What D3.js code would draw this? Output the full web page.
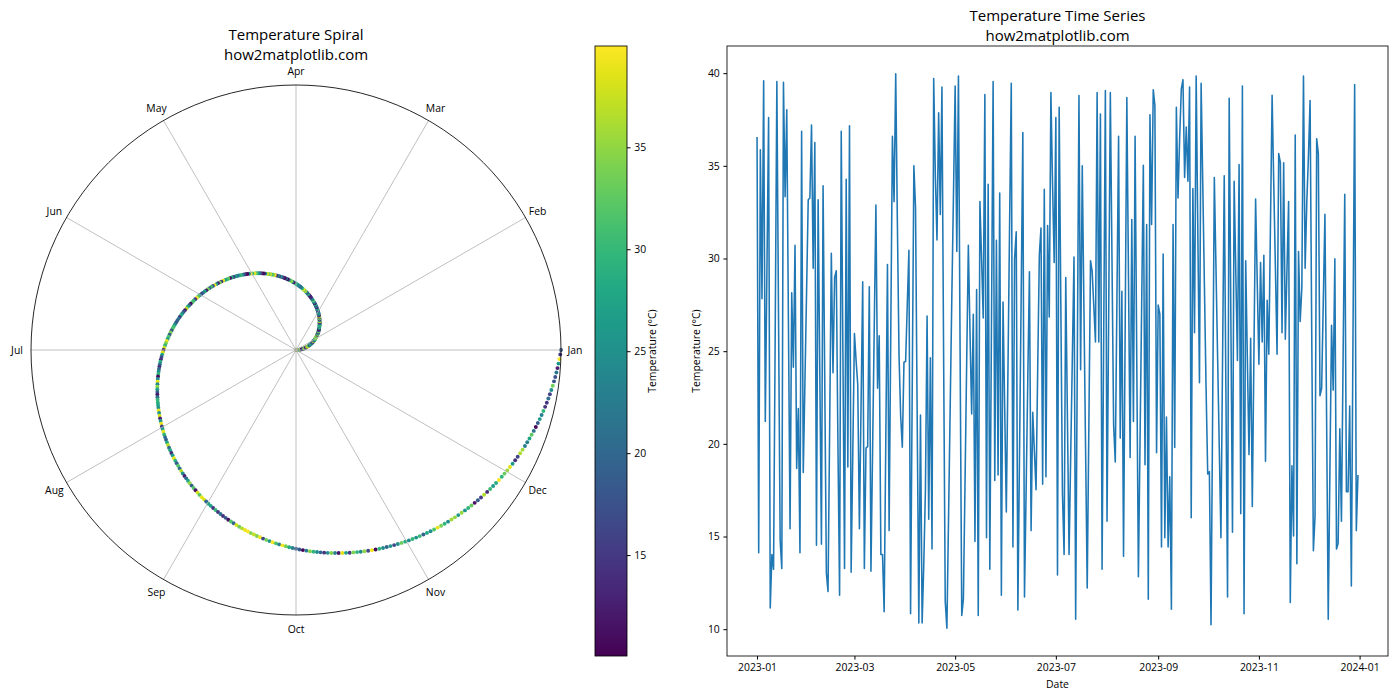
<!DOCTYPE html>
<html><head><meta charset="utf-8">
<script src="https://cdn.jsdelivr.net/npm/d3@7"></script>
<style>body{margin:0;background:#fff} svg text{font-family:"Open Sans",sans-serif;fill:#000}</style>
</head><body><svg id="c" width="1400" height="700"></svg>
<script>
const temperatures = [
36.56,14.13,35.86,27.83,39.59,21.21,29.5,37.60,11.14,14.03,
13.23,26.0,39.55,27.0,14.8,13.27,39.51,33.33,38.02,26.7,
15.42,28.15,24.14,30.72,18.67,21.90,14.13,36.86,18.45,23.3,
28.2,33.17,33.27,37.20,29.48,36.26,14.53,33.17,24.0,14.59,
33.93,23.5,13.03,12.03,21.0,30.28,23.84,28.98,29.34,20.0,
11.83,36.86,25.0,13.27,34.27,18.75,37.16,13.07,19.5,25.95,
24.5,23.2,15.42,22.0,28.74,13.27,19.77,19.85,28.48,13.13,
19.7,26.3,32.88,23.0,25.83,14.03,14.03,10.94,20.3,29.68,
15.32,26.0,36.60,33.07,39.97,32.0,24.8,21.5,19.82,24.4,
24.44,27.5,30.44,10.84,23.0,35.0,32.77,21.5,10.34,21.55,
10.34,13.5,17.5,26.9,15.93,24.64,14.33,39.71,34.53,31.0,
37.86,32.37,39.25,25.0,11.5,10.05,16.0,22.0,28.0,33.5,
39.31,30.38,39.85,25.0,10.74,11.64,18.0,24.5,30.72,26.0,
21.61,26.99,14.73,28.32,10.74,33.07,30.0,26.79,38.85,14.93,
34.0,13.23,26.4,39.55,18.02,30.98,18.32,33.53,11.83,27.65,
22.0,16.33,24.0,32.0,39.45,14.43,29.98,31.44,11.04,19.5,
28.0,36.8,11.74,17.5,23.5,29.28,15.32,21.7,19.6,17.52,
24.0,30.2,31.64,17.82,33.73,18.22,31.78,26.85,38.95,34.0,
29.79,37.6,12.93,38.16,27.7,17.32,14.03,28.98,21.5,14.03,
19.4,24.7,30.08,10.54,24.6,38.79,24.0,35.0,27.4,19.8,
12.23,21.0,29.88,29.3,27.4,25.5,38.95,25.5,37.8,13.23,
26.0,39.06,15.82,27.0,38.95,30.0,21.0,19.02,27.8,36.6,
20.31,28.23,13.93,26.3,38.69,29.0,19.26,32.11,21.21,36.6,
24.7,12.83,20.2,27.6,35.03,18.87,31.84,11.62,37.76,31.84,
39.11,38.25,19.52,27.49,27.0,14.43,30.24,14.93,21.45,14.43,
18.22,11.08,31.84,19.81,38.16,33.27,36.5,39.15,39.65,34.37,
37.1,34.17,39.25,16.02,33.77,26.0,39.85,31.5,23.3,39.45,
34.0,28.5,23.0,18.37,18.5,10.24,22.0,34.37,29.5,24.6,
19.8,14.93,24.7,34.47,23.0,11.74,38.65,27.0,15.23,34.17,
29.3,24.5,35.07,16.23,39.31,10.84,29.88,24.6,19.42,25.7,
16.62,25.0,33.21,28.7,24.3,29.78,25.5,30.18,19.06,27.75,
24.84,31.8,38.81,34.0,29.5,24.84,35.66,35.17,26.0,35.17,
25.64,29.4,33.07,11.44,18.82,15.03,36.66,13.53,30.38,26.6,
28.4,39.85,29.48,33.0,35.5,38.52,26.0,14.23,16.1,36.46,
35.66,22.6,23.0,27.7,32.38,21.5,10.54,18.5,26.4,22.9,
29.98,14.33,14.63,20.81,15.82,24.6,33.47,17.42,17.42,22.04,
12.33,25.9,39.39,15.32,18.32
];
const months = ["Jan","Feb","Mar","Apr","May","Jun","Jul","Aug","Sep","Oct","Nov","Dec"];
const startDate = "2023-01-01";
const xTickDates = ["2023-01-01","2023-03-01","2023-05-01","2023-07-01","2023-09-01","2023-11-01","2024-01-01"];
const yTicks = [10,15,20,25,30,35,40];
const cbTicks = [15,20,25,30,35];
const titles = {left:["Temperature Spiral","how2matplotlib.com"], right:["Temperature Time Series","how2matplotlib.com"]};

const svg = d3.select("#c");
const N = temperatures.length;
const ext = d3.extent(temperatures);
const color = d3.scaleSequential(d3.interpolateViridis).domain(ext);

// ---------- Polar spiral ----------
const cx = 296, cy = 350, R = 265;
const rS = d3.scaleLinear().domain([0, 1]).range([0, R]);
const idxR = d3.scaleLinear().domain([0, N - 1]).range([0, 1]);
const idxT = d3.scaleLinear().domain([0, N - 1]).range([0, 2 * Math.PI]);
const monthA = d3.scaleLinear().domain([0, 12]).range([0, 2 * Math.PI]);
const gP = svg.append("g").attr("transform", `translate(${cx},${cy})`);
gP.append("g").selectAll("circle").data(temperatures).join("circle")
  .attr("cx", (d, i) => rS(idxR(i)) * Math.cos(idxT(i)))
  .attr("cy", (d, i) => -rS(idxR(i)) * Math.sin(idxT(i)))
  .attr("r", 1.95)
  .attr("fill", d => color(d));
gP.append("g").selectAll("line").data(months).join("line")
  .attr("x1", 0).attr("y1", 0)
  .attr("x2", (m, k) => R * Math.cos(monthA(k)))
  .attr("y2", (m, k) => -R * Math.sin(monthA(k)))
  .attr("stroke", "#b0b0b0").attr("stroke-width", 0.8);
gP.append("circle").attr("r", R).attr("fill", "none").attr("stroke", "#000").attr("stroke-width", 0.85);
gP.append("g").selectAll("text").data(months).join("text")
  .attr("x", (m, k) => (R + 14) * Math.cos(monthA(k)))
  .attr("y", (m, k) => -(R + 14) * Math.sin(monthA(k)))
  .attr("text-anchor", "middle").attr("dominant-baseline", "central")
  .attr("font-size", "10.4px").text(m => m);
svg.append("text").attr("x", cx).attr("y", 40).attr("text-anchor", "middle").attr("font-size", "15px").text(titles.left[0]);
svg.append("text").attr("x", cx).attr("y", 59.5).attr("text-anchor", "middle").attr("font-size", "15px").text(titles.left[1]);

// ---------- Colorbar ----------
const cbX = 595, cbW = 32, cbTop = 46, cbBot = 656;
const cbS = d3.scaleLinear().domain(ext).range([cbBot, cbTop]);
const defs = svg.append("defs");
const grad = defs.append("linearGradient").attr("id", "vir").attr("x1", 0).attr("y1", 1).attr("x2", 0).attr("y2", 0);
d3.range(0, 1.0001, 0.05).forEach(t => grad.append("stop").attr("offset", t).attr("stop-color", d3.interpolateViridis(t)));
svg.append("rect").attr("x", cbX).attr("y", cbTop).attr("width", cbW).attr("height", cbBot - cbTop).attr("fill", "url(#vir)").attr("stroke", "#000").attr("stroke-width", 0.85);
const cbAxis = svg.append("g").attr("transform", `translate(${cbX + cbW},0)`)
  .call(d3.axisRight(cbS).tickValues(cbTicks).tickSize(3.6).tickPadding(3.6).tickSizeOuter(0));
cbAxis.select(".domain").remove();
cbAxis.selectAll("text").attr("font-size", "10.4px").attr("font-family", "Open Sans");
svg.append("text").attr("transform", `translate(652,351) rotate(-90)`).attr("text-anchor", "middle").attr("dominant-baseline", "central").attr("font-size", "10.4px").text("Temperature (°C)");

// ---------- Time series ----------
const aL = 727, aR = 1388, aT = 46, aB = 656;
const dates = temperatures.map((d, i) => d3.timeDay.offset(new Date(startDate + "T00:00:00"), i));
const dExt = d3.extent(dates);
const span = dExt[1] - dExt[0];
const xS = d3.scaleTime().domain([new Date(+dExt[0] - span * 0.05), new Date(+dExt[1] + span * 0.05)]).range([aL, aR]);
const yr = ext[1] - ext[0];
const yS = d3.scaleLinear().domain([ext[0] - 0.05 * yr, ext[1] + 0.05 * yr]).range([aB, aT]);
const line = d3.line().x((d, i) => xS(dates[i])).y(d => yS(d));
svg.append("path").datum(temperatures).attr("d", line).attr("fill", "none").attr("stroke", "#1f77b4").attr("stroke-width", 1.56).attr("stroke-linejoin", "round");
svg.append("rect").attr("x", aL).attr("y", aT).attr("width", aR - aL).attr("height", aB - aT).attr("fill", "none").attr("stroke", "#000").attr("stroke-width", 0.85);
const xAx = svg.append("g").attr("transform", `translate(0,${aB})`)
  .call(d3.axisBottom(xS).tickValues(xTickDates.map(s => new Date(s + "T00:00:00"))).tickFormat(d3.timeFormat("%Y-%m")).tickSize(3.6).tickPadding(3.6).tickSizeOuter(0));
xAx.select(".domain").remove();
xAx.selectAll("text").attr("font-size", "10.4px").attr("font-family", "Open Sans");
const yAx = svg.append("g").attr("transform", `translate(${aL},0)`)
  .call(d3.axisLeft(yS).tickValues(yTicks).tickSize(3.6).tickPadding(3.6).tickSizeOuter(0));
yAx.select(".domain").remove();
yAx.selectAll("text").attr("font-size", "10.4px").attr("font-family", "Open Sans");
svg.append("text").attr("x", (aL + aR) / 2).attr("y", 688).attr("text-anchor", "middle").attr("font-size", "10.4px").text("Date");
svg.append("text").attr("transform", `translate(696,351) rotate(-90)`).attr("text-anchor", "middle").attr("dominant-baseline", "central").attr("font-size", "10.4px").text("Temperature (°C)");
svg.append("text").attr("x", (aL + aR) / 2).attr("y", 21).attr("text-anchor", "middle").attr("font-size", "15px").text(titles.right[0]);
svg.append("text").attr("x", (aL + aR) / 2).attr("y", 40.5).attr("text-anchor", "middle").attr("font-size", "15px").text(titles.right[1]);
</script></body></html>
